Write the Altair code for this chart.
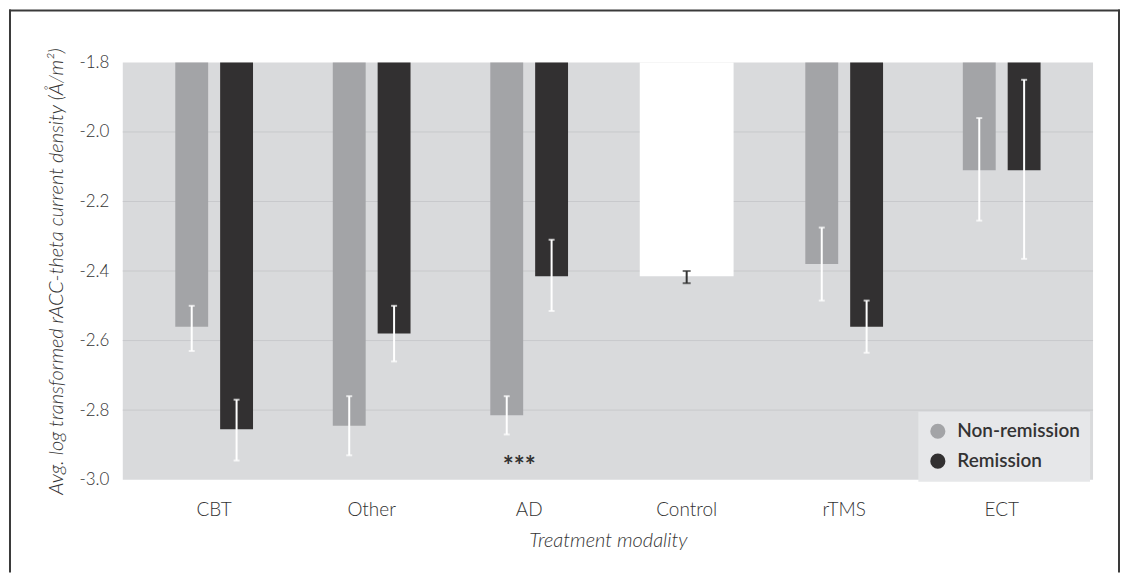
import altair as alt
import pandas as pd

categories = ["CBT", "Other", "AD", "Control", "rTMS", "ECT"]
groups = ["Non-remission", "Remission"]
treat_cats = ["CBT", "Other", "AD", "rTMS", "ECT"]
nonrem_mean = [-2.56, -2.845, -2.815, -2.38, -2.11]
nonrem_lo = [-2.63, -2.93, -2.87, -2.485, -2.255]
nonrem_hi = [-2.50, -2.76, -2.76, -2.275, -1.96]
rem_mean = [-2.855, -2.58, -2.415, -2.56, -2.11]
rem_lo = [-2.945, -2.66, -2.515, -2.635, -2.365]
rem_hi = [-2.77, -2.50, -2.31, -2.485, -1.85]
control_cat = ["Control"]
control_mean = [-2.415]
control_lo = [-2.435]
control_hi = [-2.40]
y_ticks = [-1.8, -2.0, -2.2, -2.4, -2.6, -2.8, -3.0]
grid_values = [-2.0, -2.2, -2.4, -2.6, -2.8]
baseline = -1.8
sig_cat = ["AD"]
sig_label = ["***"]
sig_y = [-2.944]

rows = []
for i, c in enumerate(treat_cats):
    rows.append(dict(cat=c, group=groups[0], mean=nonrem_mean[i], lo=nonrem_lo[i], hi=nonrem_hi[i], base=baseline))
    rows.append(dict(cat=c, group=groups[1], mean=rem_mean[i], lo=rem_lo[i], hi=rem_hi[i], base=baseline))
df = pd.DataFrame(rows)
ctrl = pd.DataFrame(dict(cat=control_cat, mean=control_mean, lo=control_lo, hi=control_hi, base=[baseline]))
grid_df = pd.DataFrame(dict(v=grid_values))
sig_df = pd.DataFrame(dict(cat=sig_cat, label=sig_label, y=sig_y))
frame_df = pd.DataFrame(dict(a=[0]))

FONT = "Lato"
TXT = "#333333"

x_enc = alt.X(
    "cat:N",
    sort=categories,
    scale=alt.Scale(domain=categories, paddingInner=0, paddingOuter=0.08),
    axis=alt.Axis(
        labelAngle=0, labelFontSize=19, labelFont=FONT, labelFontWeight=300,
        labelColor=TXT, ticks=False, domain=False, labelPadding=21,
        titleFontSize=20, titleFont=FONT, titleFontStyle="italic", titleFontWeight=300,
        titleColor=TXT, titlePadding=11, grid=False,
    ),
    title="Treatment modality",
)
y_scale = alt.Scale(domain=[-3.0, -1.8], nice=False, zero=False)
y_axis = alt.Axis(
    values=y_ticks,
    labelExpr="(datum.value < 0 ? '-' : '') + format(abs(datum.value), '.1f')",
    labelFontSize=17, labelFont=FONT, labelFontWeight=300, labelColor=TXT,
    ticks=False, domain=False, grid=False, labelPadding=14,
    titleFontSize=20, titleFont=FONT, titleFontStyle="italic", titleFontWeight=300,
    titleColor=TXT, titlePadding=12,
)
x_off = alt.XOffset("group:N", scale=alt.Scale(domain=groups, paddingInner=0.267, paddingOuter=0.889))

grid = alt.Chart(grid_df).mark_rule(color="#c8c9cc", strokeWidth=1).encode(
    y=alt.Y("v:Q", scale=y_scale, axis=y_axis,
            title="Avg. log transformed rACC-theta current density (Å/m²)")
)

bars = alt.Chart(df).mark_bar().encode(
    x=x_enc,
    xOffset=x_off,
    y=alt.Y("mean:Q", scale=y_scale),
    y2="base:Q",
    color=alt.Color(
        "group:N",
        scale=alt.Scale(domain=groups, range=["#a3a4a7", "#323031"]),
        legend=alt.Legend(
            orient="none", legendX=797, legendY=350, title=None,
            fillColor="#e6e7e9", padding=10, symbolType="circle", symbolSize=230,
            symbolStrokeWidth=0, labelFont=FONT, labelFontSize=19, labelFontWeight=600,
            labelColor=TXT, rowPadding=10, labelOffset=10,
        ),
    ),
)

ctrl_bar = alt.Chart(ctrl).mark_bar(size=94, color="white").encode(
    x=alt.X("cat:N", sort=categories),
    y=alt.Y("mean:Q", scale=y_scale),
    y2="base:Q",
)

err = alt.Chart(df).mark_rule(color="white", strokeWidth=2).encode(
    x=alt.X("cat:N", sort=categories), xOffset=x_off,
    y=alt.Y("lo:Q", scale=y_scale), y2="hi:Q",
)
cap_lo = alt.Chart(df).mark_tick(color="white", size=6, thickness=2).encode(
    x=alt.X("cat:N", sort=categories), xOffset=x_off,
    y=alt.Y("lo:Q", scale=y_scale),
)
cap_hi = alt.Chart(df).mark_tick(color="white", size=6, thickness=2).encode(
    x=alt.X("cat:N", sort=categories), xOffset=x_off,
    y=alt.Y("hi:Q", scale=y_scale),
)

ctrl_err = alt.Chart(ctrl).mark_rule(color="#333333", strokeWidth=2).encode(
    x=alt.X("cat:N", sort=categories),
    y=alt.Y("lo:Q", scale=y_scale), y2="hi:Q",
)
ctrl_cap_lo = alt.Chart(ctrl).mark_tick(color="#333333", size=8, thickness=2).encode(
    x=alt.X("cat:N", sort=categories), y=alt.Y("lo:Q", scale=y_scale),
)
ctrl_cap_hi = alt.Chart(ctrl).mark_tick(color="#333333", size=8, thickness=2).encode(
    x=alt.X("cat:N", sort=categories), y=alt.Y("hi:Q", scale=y_scale),
)

sig = alt.Chart(sig_df).mark_text(
    dx=-10, dy=7, fontSize=26, font=FONT, fontWeight="bold", color=TXT, baseline="middle"
).encode(
    x=alt.X("cat:N", sort=categories),
    y=alt.Y("y:Q", scale=y_scale),
    text="label:N",
)

FRAME = "#3a3a3a"
frame_top = alt.Chart(frame_df).mark_rule(color=FRAME, strokeWidth=2, clip=False).encode(
    x=alt.value(-114), x2=alt.value(999), y=alt.value(-52)
)
frame_left = alt.Chart(frame_df).mark_rule(color=FRAME, strokeWidth=2, clip=False).encode(
    x=alt.value(-113), y=alt.value(-53), y2=alt.value(511)
)
frame_right = alt.Chart(frame_df).mark_rule(color=FRAME, strokeWidth=2, clip=False).encode(
    x=alt.value(998), y=alt.value(-53), y2=alt.value(511)
)

chart = alt.layer(
    grid, bars, ctrl_bar, err, cap_lo, cap_hi, ctrl_err, ctrl_cap_lo, ctrl_cap_hi, sig,
    frame_top, frame_left, frame_right
).properties(
    width=972, height=418, padding=0, background="white"
).configure_view(
    fill="#d9dadc", stroke=None
)

chart.save("out.html", embed_options={"renderer": "svg", "actions": False})
